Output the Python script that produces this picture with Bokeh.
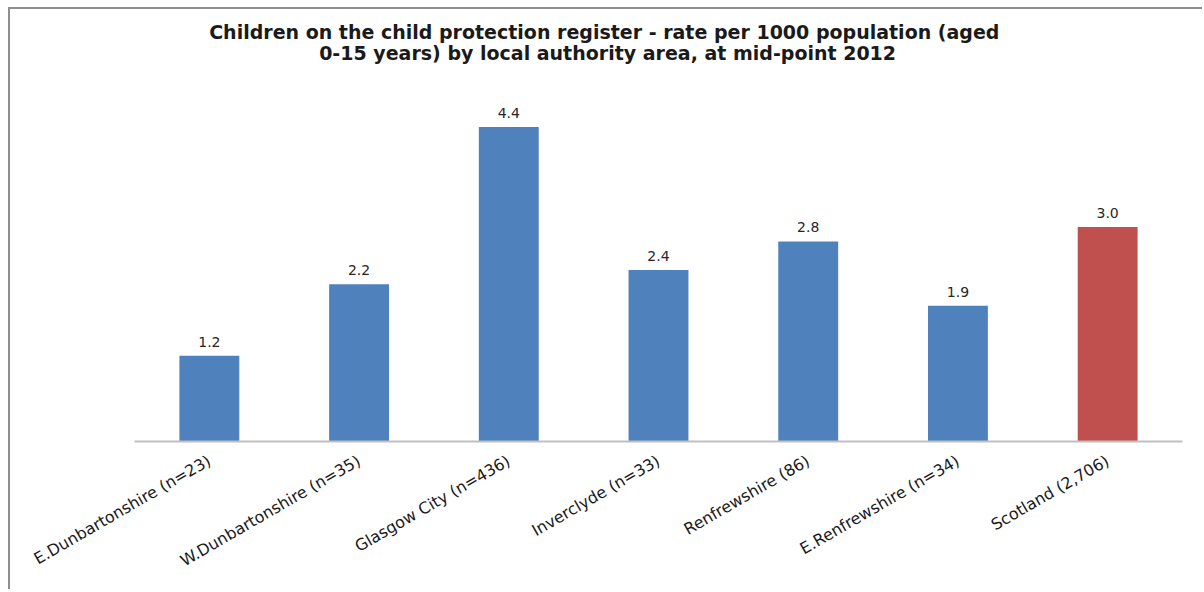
from bokeh.plotting import figure
from bokeh.models import ColumnDataSource, LabelSet, Label, FactorRange, Range1d
from bokeh.core.properties import value
from bokeh.embed import file_html
from bokeh.resources import INLINE
import math

categories = ["E.Dunbartonshire (n=23)", "W.Dunbartonshire (n=35)", "Glasgow City (n=436)",
              "Inverclyde (n=33)", "Renfrewshire (86)", "E.Renfrewshire (n=34)", "Scotland (2,706)"]
rates = [1.2, 2.2, 4.4, 2.4, 2.8, 1.9, 3.0]
bar_colors = ["#4F81BD", "#4F81BD", "#4F81BD", "#4F81BD", "#4F81BD", "#4F81BD", "#C0504D"]
value_labels = ["%.1f" % v for v in rates]
title_lines = ["Children on the child protection register - rate per 1000 population  (aged",
               "0-15 years) by local authority area, at mid-point 2012"]

src = ColumnDataSource(dict(cat=categories, val=rates, color=bar_colors, lab=value_labels))

p = figure(x_range=FactorRange(*categories, range_padding=0), y_range=Range1d(0, 6.045),
           width=1194, height=582, output_backend="svg", toolbar_location=None,
           min_border_left=124, min_border_right=22, min_border_top=0, min_border_bottom=150)
p.margin = (7, 0, 0, 8)
p.styles = {"border-left": "2px solid #8f8f8f", "border-top": "2px solid #8f8f8f"}

p.vbar(x="cat", top="val", width=0.4, color="color", line_color=None, source=src)
p.add_layout(LabelSet(x="cat", y="val", text="lab", source=src, y_offset=9,
                      text_align="center", text_baseline="bottom",
                      text_font=value("DejaVu Sans"), text_font_size="14px", text_color="#262626"))

for txt, yv in zip(title_lines, [5.737, 5.43]):
    p.add_layout(Label(x=3.16, y=yv, text=txt, text_align="center",
                       text_baseline="middle", text_font="DejaVu Sans", text_font_size="19px",
                       text_font_style="bold", text_color="#1a1a1a"))

p.title.visible = False
p.yaxis.visible = False
p.xgrid.grid_line_color = None
p.ygrid.grid_line_color = None
p.outline_line_color = None
p.xaxis.axis_line_color = "#BFBFBF"
p.xaxis.axis_line_width = 2
p.xaxis.major_tick_line_color = None
p.xaxis.minor_tick_line_color = None
p.xaxis.major_label_orientation = math.pi / 6
p.xaxis.major_label_text_font = "DejaVu Sans"
p.xaxis.major_label_text_font_size = "16px"
p.xaxis.major_label_text_color = "#1a1a1a"
p.xaxis.major_label_standoff = 12

open("out.html", "w").write(file_html(p, INLINE))
